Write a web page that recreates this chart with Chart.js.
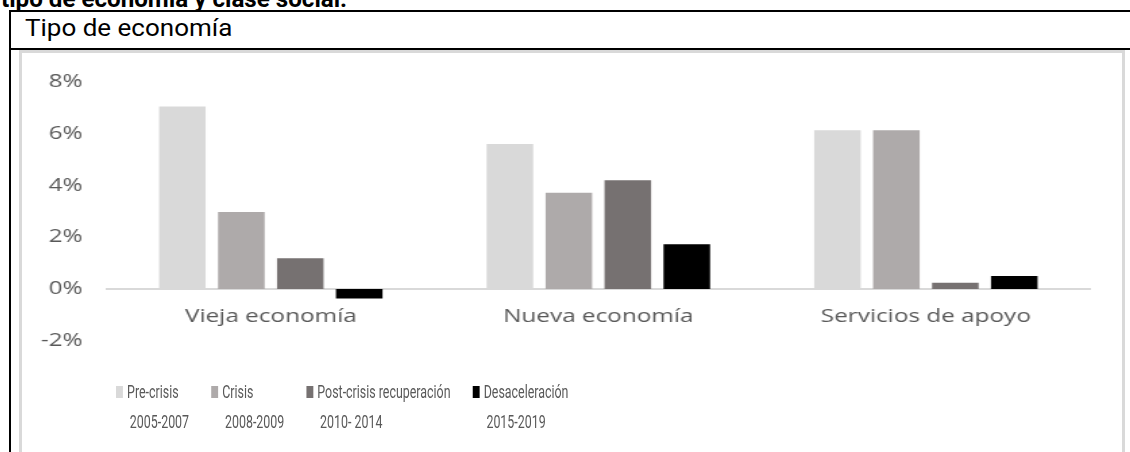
<!DOCTYPE html>
<html lang="es">
<head>
<meta charset="utf-8">
<title>Tipo de economía</title>
<script src="https://cdn.jsdelivr.net/npm/chart.js@4.4.1/dist/chart.umd.min.js"></script>
<style>
    html, body { margin: 0; padding: 0; background: #fff; }
    body { position: relative; width: 1130px; height: 452px; overflow: hidden; font-family: Roboto, "Liberation Sans", sans-serif; }
    .caption { position: absolute; left: 1px; top: -11px; font-size: 23px; line-height: 22px; font-weight: bold; color: #000; white-space: nowrap; transform: scaleX(1.05); transform-origin: left top; }
    .rule { position: absolute; background: #000; }
    .heading { position: absolute; left: 25px; top: 18px; font-size: 23px; line-height: 22px; color: #000; white-space: nowrap; transform: scaleX(1.13); transform-origin: left top; }
    .chart-box { position: absolute; left: 19px; top: 50px; width: 1106px; height: 420px; border: 3px solid #d9d9d9; box-sizing: border-box; }
    #chart { position: absolute; left: 22px; top: 53px; }
    #legend { position: absolute; left: 116px; top: 377px; display: flex; gap: 32px; font-size: 18px; line-height: 30px; color: #595959; white-space: nowrap; transform: scaleX(0.69); transform-origin: left top; }
    #legend .box { display: inline-block; width: 10px; height: 12px; margin-right: 6px; }
    #legend .period { padding-left: 20px; }
</style>
</head>
<body>
<div class="caption">tipo de economía y clase social.</div>
<div class="rule" style="left:9px; top:10px; width:1121px; height:2px;"></div>
<div class="rule" style="left:9px; top:10px; width:2px; height:442px;"></div>
<div class="rule" style="left:9px; top:48px; width:1121px; height:2px;"></div>
<div class="heading">Tipo de economía</div>
<div class="chart-box"></div>
<!-- drawn at 815px wide, shown stretched to 1100px -->
<canvas id="chart" width="815" height="330" style="width:1100px; height:330px;"></canvas>
<div id="legend"></div>

<script>
// tasas de crecimiento (%) por tipo de economía y periodo
const categories = ['Vieja economía', 'Nueva economía', 'Servicios de apoyo'];
const seriesNames = ['Pre-crisis', 'Crisis', 'Post-crisis recuperación', 'Desaceleración'];
const seriesPeriods = ['2005-2007', '2008-2009', '2010- 2014', '2015-2019'];
const seriesColors = ['#d9d9d9', '#aeaaaa', '#767171', '#000000'];

const preCrisis = [7.05, 5.6, 6.13];
const crisis = [2.97, 3.72, 6.13];
const postCrisis = [1.19, 4.2, 0.24];
const desaceleracion = [-0.37, 1.73, 0.5];

const yTicks = [-2, 0, 2, 4, 6, 8];

const seriesValues = [preCrisis, crisis, postCrisis, desaceleracion];
const axisFont = { family: '"Open Sans", "DejaVu Sans", sans-serif', size: 18 };

const chart = new Chart(document.getElementById('chart'), {
    type: 'bar',
    data: {
        labels: categories,
        datasets: seriesValues.map((values, i) => ({
            label: seriesNames[i] + ' ' + seriesPeriods[i],
            data: values,
            backgroundColor: seriesColors[i],
            borderWidth: 0,
            categoryPercentage: 0.72,
            barPercentage: 0.79
        }))
    },
    options: {
        responsive: false,
        devicePixelRatio: 1,
        animation: false,
        layout: { padding: { left: 0, right: 24, top: 22.8, bottom: 42.2 } },
        plugins: {
            legend: { display: false },
            tooltip: { enabled: false }
        },
        scales: {
            x: {
                position: { y: 0 },
                grid: { display: false, drawTicks: false },
                border: { color: '#d9d9d9', width: 2 },
                ticks: { color: '#595959', font: axisFont, padding: 17, maxRotation: 0 }
            },
            y: {
                min: yTicks[0],
                max: yTicks[yTicks.length - 1],
                afterBuildTicks: scale => { scale.ticks = yTicks.map(v => ({ value: v })); },
                afterFit: scale => { scale.width = 63; },
                grid: { display: false, drawTicks: false },
                border: { display: false },
                ticks: { color: '#595959', font: axisFont, padding: 18, callback: v => v + '%' }
            }
        }
    }
});

// leyenda en dos líneas: nombre del periodo y años
const legend = document.getElementById('legend');
chart.data.datasets.forEach((ds, i) => {
    const item = document.createElement('div');
    item.innerHTML =
        '<div><span class="box" style="background:' + ds.backgroundColor + '"></span>' + seriesNames[i] + '</div>' +
        '<div class="period">' + seriesPeriods[i] + '</div>';
    legend.appendChild(item);
});
</script>
</body>
</html>
